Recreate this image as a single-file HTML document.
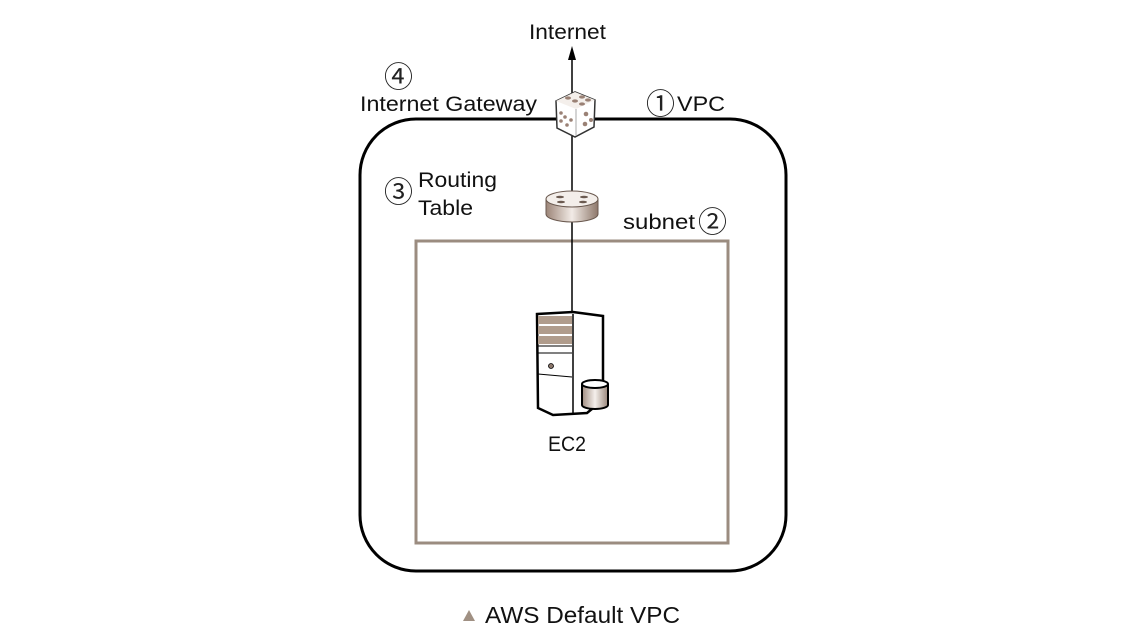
<!DOCTYPE html>
<html><head><meta charset="utf-8"><style>
html,body{margin:0;padding:0;background:#fff;}
svg{display:block;}
text{font-family:"Liberation Sans","Noto Sans CJK KR",sans-serif;fill:#111;}
.c{font-family:"Noto Sans CJK KR","Noto Sans CJK JP",sans-serif;fill:#222;}
</style></head><body>
<svg width="1140" height="644" viewBox="0 0 1140 644" xmlns="http://www.w3.org/2000/svg">
<defs>
<linearGradient id="rg" x1="0" x2="1"><stop offset="0" stop-color="#9c8578"/><stop offset="0.5" stop-color="#f2ebe6"/><stop offset="1" stop-color="#8e786b"/></linearGradient>
<linearGradient id="cg" x1="0" x2="1"><stop offset="0" stop-color="#a08c80"/><stop offset="0.5" stop-color="#f5f0ec"/><stop offset="1" stop-color="#9a877b"/></linearGradient>
</defs>
<rect x="360" y="119" width="426" height="452" rx="56" fill="none" stroke="#000" stroke-width="3"/>
<rect x="416" y="241" width="312" height="302" fill="none" stroke="#9b8c80" stroke-width="3"/>
<line x1="572" y1="55" x2="572" y2="316" stroke="#000" stroke-width="1.5"/>
<polygon points="572,46 568,60 576,60" fill="#000"/>
<!-- dice -->
<polygon points="556,101 575,92 595,100 594,127 575,137 557,128" fill="#fff" stroke="#333" stroke-width="1.5"/>
<polygon points="556,101 575,92 595,100 576,109" fill="#f4efeb"/>
<line x1="576" y1="109" x2="576" y2="136" stroke="#aaa" stroke-width="1"/>
<g fill="#9a8175"><ellipse cx="568" cy="98" rx="3" ry="1.6"/><ellipse cx="575" cy="101" rx="3" ry="1.6"/><ellipse cx="582" cy="97" rx="3" ry="1.6"/><ellipse cx="582" cy="104" rx="3" ry="1.6"/><ellipse cx="588" cy="100" rx="3" ry="1.6"/>
<circle cx="561" cy="113" r="1.8"/><circle cx="565" cy="117" r="1.8"/><circle cx="561" cy="121" r="1.8"/><circle cx="571" cy="120" r="1.8"/><circle cx="567" cy="125" r="1.8"/>
<circle cx="586" cy="114" r="2.3"/><circle cx="585" cy="124" r="2.3"/><circle cx="591" cy="120" r="2"/></g>
<!-- router -->
<path d="M546,199 v15 a26,8 0 0 0 52,0 v-15" fill="url(#rg)" stroke="#6b5a50" stroke-width="1"/>
<ellipse cx="572" cy="199" rx="26" ry="8" fill="#f3eeea" stroke="#6b5a50" stroke-width="1"/>
<g fill="#6b5a50"><ellipse cx="560" cy="197" rx="4" ry="1.3"/><ellipse cx="584" cy="197" rx="4" ry="1.3"/><ellipse cx="561" cy="202" rx="4" ry="1.3"/><ellipse cx="583" cy="202" rx="4" ry="1.3"/></g>
<!-- server -->
<polygon points="537,314 573,312 603,316 603,400 587,413 553,415 538,408" fill="#fff" stroke="#000" stroke-width="2.5"/>
<line x1="573" y1="314" x2="573" y2="413" stroke="#000" stroke-width="1.5"/>
<rect x="538" y="316" width="34" height="8" fill="#b09c8c"/>
<rect x="538" y="326" width="34" height="8" fill="#b09c8c"/>
<rect x="538" y="336" width="34" height="8" fill="#b09c8c"/>
<line x1="538" y1="346" x2="572" y2="346" stroke="#000"/>
<line x1="538" y1="353" x2="572" y2="353" stroke="#000"/>
<line x1="538" y1="374" x2="572" y2="377" stroke="#000"/>
<circle cx="551" cy="366" r="2.5" fill="#8a766a" stroke="#000" stroke-width="0.8"/>
<path d="M582,384 v21 a13,4 0 0 0 26,0 v-21" fill="url(#cg)" stroke="#000" stroke-width="2"/>
<ellipse cx="595" cy="384" rx="13" ry="4" fill="#fff" stroke="#000" stroke-width="2"/>
<!-- labels -->
<text x="529" y="39" font-size="21" textLength="77" lengthAdjust="spacingAndGlyphs">Internet</text>
<text x="384" y="87" font-size="29" class="c">④</text>
<text x="360" y="111" font-size="21" textLength="177" lengthAdjust="spacingAndGlyphs">Internet Gateway</text>
<text x="646" y="114" font-size="29" class="c">①</text>
<text x="677" y="111" font-size="21" textLength="48" lengthAdjust="spacingAndGlyphs">VPC</text>
<text x="384" y="202" font-size="29" class="c">③</text>
<text x="418" y="187" font-size="21" textLength="79" lengthAdjust="spacingAndGlyphs">Routing</text>
<text x="418" y="215" font-size="21" textLength="55" lengthAdjust="spacingAndGlyphs">Table</text>
<text x="623" y="229" font-size="21" textLength="72" lengthAdjust="spacingAndGlyphs">subnet</text>
<text x="698" y="232" font-size="29" class="c">②</text>
<text x="548" y="451" font-size="21" textLength="38" lengthAdjust="spacingAndGlyphs">EC2</text>
<polygon points="463,621 469,610 475,621" fill="#a09083"/>
<text x="485" y="623" font-size="23" textLength="195" lengthAdjust="spacingAndGlyphs">AWS Default VPC</text>
</svg>
</body></html>
